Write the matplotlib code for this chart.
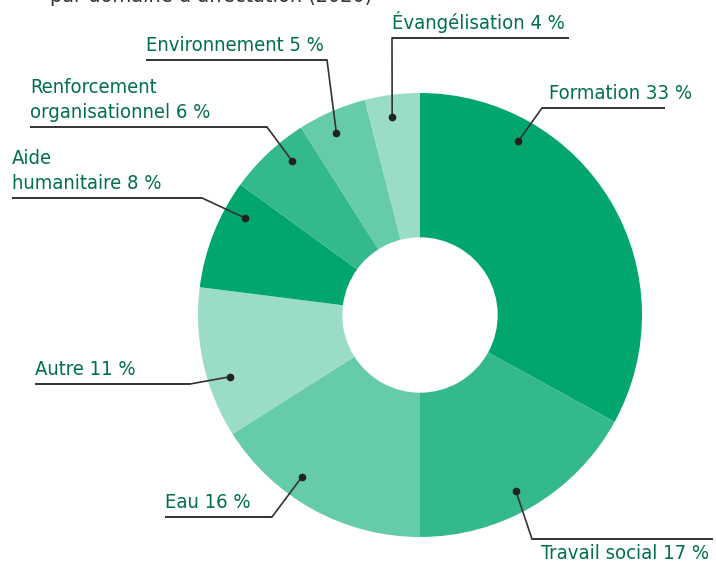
import numpy as np
import matplotlib
matplotlib.use("Agg")
import matplotlib.pyplot as plt

# donnees
domaines = ["Formation", "Travail social", "Eau", "Autre", "Aide\nhumanitaire",
            "Renforcement\norganisationnel ", "Environnement ", "Évangélisation"]
parts = [33, 17, 16, 11, 8, 6, 5, 4]
couleurs = ["#00a66d", "#33b98a", "#66cba8", "#9adcc6",
            "#00a66d", "#33b98a", "#66cba8", "#9adcc6"]

# mise en page des etiquettes (pixels de l'image, y vers le bas)
# angle du point, x texte, y ligne, x debut ligne, x fin ligne, coude x
etiq = [
    (60.5, 549, 108, 542, 665, 542),
    (-61.4, 541, 539, 532, 713, 532),
    (233.9, 165, 517, 165, 272, 272),
    (198, 35, 384, 35, 190, 190),
    (151, 12, 198, 12, 202, 202),
    (129.7, 30, 127, 30, 267, 267),
    (114.7, 146, 60, 146, 327, 327),
    (98, 392, 38, 392, 569, 392),
]

W, H = 716, 566
cx, cy, R = 420, 315, 222
vert = "#00704a"

fig = plt.figure(figsize=(W / 100, H / 100), dpi=100)
ax = fig.add_axes([0, 0, 1, 1])
ax.axis("off")

ax.pie(parts, colors=couleurs, startangle=90, counterclock=False,
       radius=R, center=(cx, H - cy),
       wedgeprops=dict(width=R * 0.65, linewidth=0))
ax.set_xlim(0, W)
ax.set_ylim(0, H)
ax.set_aspect("equal")

police = dict(family="DejaVu Sans", fontstretch="condensed", fontsize=14.5, color=vert)

for nom, p, (ang, tx, ly, x0, x1, xc) in zip(domaines, parts, etiq):
    a = np.deg2rad(ang)
    px = cx + 200 * np.cos(a)
    py = cy - 200 * np.sin(a)
    ax.plot([x0, x1], [H - ly, H - ly], color="#333333", lw=1.4, solid_capstyle="butt")
    ax.plot([xc, px], [H - ly, H - py], color="#333333", lw=1.2)
    ax.plot(px, H - py, "o", color="#222222", ms=4.5)
    txt = f"{nom}{p} %" if nom.endswith(("\n", " ")) else f"{nom} {p} %"
    if ly > 530:  # texte sous la ligne
        ax.text(tx, H - ly - 5, txt, ha="left", va="top", **police)
    else:
        ax.text(tx, H - ly + 5, txt, ha="left", va="bottom", linespacing=1.4, **police)

# titre coupe en haut
ax.text(50, H - 2.5, "par domaine d’affectation (2020)", ha="left", va="baseline",
        family="DejaVu Sans", fontstretch="condensed", fontsize=15.5,
        color="#333333", clip_on=False)

fig.savefig("out.png", dpi=100)
